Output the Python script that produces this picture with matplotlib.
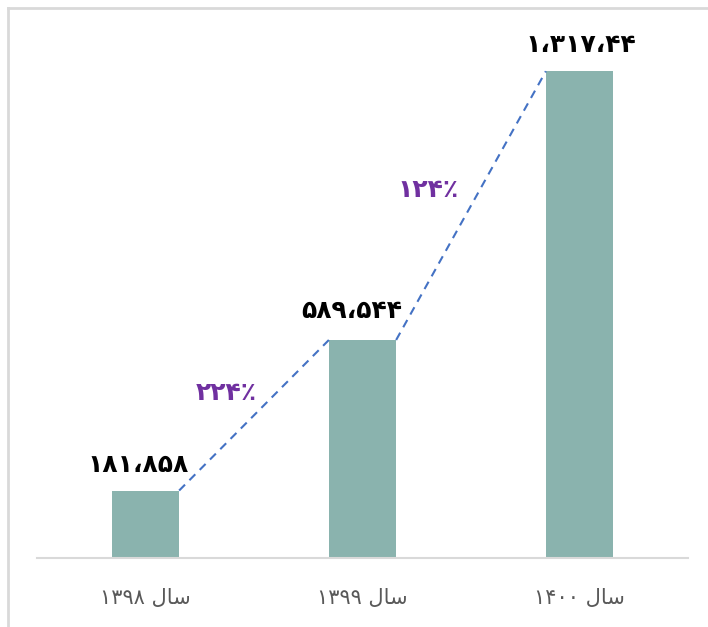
import matplotlib.pyplot as plt
from matplotlib.lines import Line2D

# data
years = [1398, 1399, 1400]
values = [181858, 589544, 1317440]
value_labels = ['۱۸۱،۸۵۸', '۵۸۹،۵۴۴', '۱،۳۱۷،۴۴']
growth = [224, 124]

FA_DIGITS = str.maketrans('0123456789', '۰۱۲۳۴۵۶۷۸۹')
# "سال" written in presentation forms, visual (left-to-right) order
SAL = '\ufedd\ufe8e\ufeb3'


def fa(n):
    return str(n).translate(FA_DIGITS)


cat_labels = [fa(y) + ' ' + SAL for y in years]

bar_color = '#8AB3AE'
line_color = '#4472C4'
pct_color = '#7030A0'
width = 0.31

fig = plt.figure(figsize=(7.08, 6.27), dpi=100)
ax = fig.add_axes([37 / 708, 69.3 / 627, 651 / 708, 537.7 / 627])

x = list(range(len(values)))
ax.bar(x, values, width=width, color=bar_color, zorder=2)

# dashed connectors between bar corners
for i in range(len(values) - 1):
    ax.plot([x[i] + width / 2, x[i + 1] - width / 2], [values[i], values[i + 1]],
            color=line_color, linestyle=(0, (4, 3)), linewidth=1.5, zorder=3)

# value labels above bars
offsets = [(-5, 10), (-8, 12), (1, 10)]
for i, v in enumerate(values):
    ax.annotate(value_labels[i], (x[i], v), xytext=offsets[i],
                textcoords='offset points', ha='center', va='bottom',
                fontsize=18, fontweight='bold', color='black', family='DejaVu Sans')

# growth labels
pct_pos = [(0.37, 446000), (1.30, 996000)]
for i, g in enumerate(growth):
    ax.text(pct_pos[i][0], pct_pos[i][1], fa(g) + '٪', ha='center', va='center',
            fontsize=18, fontweight='bold', color=pct_color, family='DejaVu Sans')

ax.set_xlim(-0.5, 2.5)
ax.set_ylim(0, 589544 / 217.7 * 537.7)
ax.set_xticks(x)
ax.set_xticklabels(cat_labels, fontsize=15, color='#595959')
ax.tick_params(axis='x', length=0, pad=22)
ax.set_yticks([])
for s in ['top', 'right', 'left']:
    ax.spines[s].set_visible(False)
ax.spines['bottom'].set_color('#D9D9D9')
ax.spines['bottom'].set_linewidth(1.5)

# light frame of the slide at top and left
fig.add_artist(Line2D([7.5 / 708, 1], [1 - 7.5 / 627, 1 - 7.5 / 627],
                      color='#D9D9D9', linewidth=2, transform=fig.transFigure))
fig.add_artist(Line2D([7.5 / 708, 7.5 / 708], [0, 1 - 7.5 / 627],
                      color='#D9D9D9', linewidth=2, transform=fig.transFigure))

plt.savefig('out.png', dpi=100)
